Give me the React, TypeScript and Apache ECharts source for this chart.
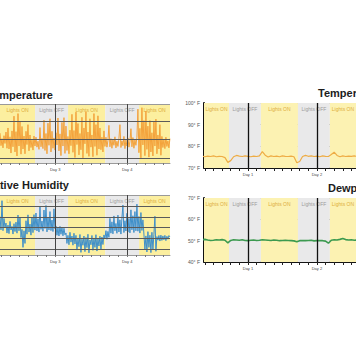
import React, { useEffect, useRef } from "react";
import * as echarts from "echarts";

// ---------- data ----------
// Left panels: samples every 1/3 h starting at hour 29.6 (Day 3 = hour 48, Day 4 = hour 72)
const leftStartHour = 29.6;
const leftStepHours = 1 / 3;

// Temperature (°F), left-top panel
const tempLeft = [
  76.7, 73.3, 75.2, 72.7, 76.0, 73.9, 77.0, 72.6,
  78.1, 72.4, 75.7, 71.3, 77.3, 73.0,
  81.3, 71.6, 77.1, 70.5, 82.0, 73.2, 79.8, 71.0,
  78.5, 72.4, 75.9, 71.1, 77.2, 73.6, 79.0, 71.9,
  76.2, 72.8, 74.8, 72.1, 75.9, 73.2,
  75.6, 72.9, 74.5, 72.3, 78.2, 73.0, 75.3, 72.5,
  80.2, 72.0, 76.6, 71.1, 79.4, 73.4, 80.6, 71.6,
  77.2, 72.6, 75.4, 72.1, 76.8, 73.5,
  80.8, 71.9, 76.5, 70.6, 79.6, 73.2, 80.9, 71.2,
  78.6, 72.0, 75.8, 71.1, 77.5, 73.3,
  81.8, 71.5, 77.4, 70.1, 82.4, 73.6, 79.3, 70.8, 76.6, 72.2, 81.0, 70.0, 78.1, 73.8,
  82.5, 71.2, 77.0, 70.4, 80.6, 72.9, 76.2, 70.3, 82.0, 73.1, 79.0, 70.7, 81.4, 72.4,
  78.1, 72.2, 75.6, 71.6, 77.3, 73.1,
  75.6, 72.9, 74.7, 78.8, 73.0, 75.2, 72.6, 74.9, 73.4, 75.7, 72.7, 74.5, 73.1, 75.3, 79.0, 72.8,
  74.6, 73.3, 75.8, 72.5, 74.8, 73.2, 75.4, 72.9, 74.4, 77.9, 73.0, 75.5, 72.6, 74.9, 73.4, 75.6,
  83.2, 71.4, 78.0, 70.0, 83.6, 73.5, 80.1, 70.6, 82.7, 72.3, 78.6, 70.2,
  80.1, 71.6, 76.8, 70.5, 79.9, 73.2, 80.5, 71.1, 76.2, 72.4, 79.0, 70.7,
  75.8, 72.8, 74.9, 72.5, 75.6, 73.1, 74.6, 72.7, 75.2,
];

// Relative humidity (%), left-bottom panel
const humidityLeft = [
  60.2, 48.1, 74.8, 47.3, 58.5, 50.2,
  54.3, 45.1, 52.4, 44.6, 55.8, 47.9, 51.2, 44.2, 53.7, 46.5, 55.1, 45.0, 61.6, 47.2, 59.8,
  41.0, 48.5, 32.0, 47.2, 35.6,
  56.4, 44.1, 61.8, 46.0, 53.3, 43.2, 59.4, 45.5, 62.0, 47.8,
  63.5, 47.1, 58.2, 46.0, 69.7, 48.5, 56.1, 46.8, 66.2, 49.3,
  70.4, 46.2, 59.6, 48.0, 64.8, 47.4, 57.0, 46.5, 67.3, 49.0,
  51.6, 43.1, 49.8, 42.4, 51.2, 44.0, 50.3, 42.6, 49.5, 43.5,
  45.2, 35.6, 43.0, 34.4, 45.8, 36.8, 42.4, 34.0, 44.9, 35.1,
  43.0, 29.5, 40.2, 32.6, 43.8, 27.4, 39.5, 33.9, 42.4, 28.1, 41.0, 31.8, 44.0, 27.0, 38.7,
  34.4, 42.9, 29.3, 40.6, 32.0, 43.6, 28.6, 39.9, 33.2, 42.2, 29.8, 41.5, 34.6, 43.4,
  40.0, 47.3, 39.4, 46.6, 41.2,
  58.6, 45.0, 55.4, 44.4, 60.8, 47.2, 53.9, 44.9, 61.5, 46.1, 57.3, 44.2, 59.0, 70.8, 45.6, 56.4, 47.0,
  63.2, 46.0, 58.5, 45.3, 66.4, 48.1, 61.0, 45.6, 64.8, 47.2, 71.6, 46.8, 60.3, 45.1, 63.9, 47.5, 57.2,
  44.2, 30.1, 42.5, 27.8, 46.4, 32.0, 43.1, 27.2, 45.8, 29.6, 44.0, 60.5, 28.4, 41.9,
  38.6, 42.9, 37.8, 43.2, 38.4, 42.5, 39.0, 43.0, 38.2, 42.2, 39.5, 42.8, 41.6,
];

// Right panels: hourly samples starting at hour 8 (Day 1 = hour 24, Day 2 = hour 48)
const rightStartHour = 8;

const tempRight = [
  75.4, 75.2, 75.5, 75.3, 75.6, 75.2, 75.4, 75.3, 74.8, 72.6,
  73.4, 75.2, 75.8, 75.5, 75.3, 75.6, 75.4, 75.2, 75.5, 75.3,
  75.6, 77.6, 75.9, 75.1, 75.6, 75.3, 75.5, 75.2, 75.6, 75.4,
  75.3, 75.5, 75.2, 72.4, 73.0, 75.3, 75.8, 75.4, 75.6, 75.3,
  75.5, 75.2, 75.6, 75.4, 75.3, 76.2, 77.3, 75.8, 75.2, 75.6,
  75.3, 75.5, 75.4, 75.6, 75.3,
];

const dewRight = [
  50.4, 50.6, 50.3, 50.1, 50.2, 50.4, 50.3, 50.5, 50.2, 49.0,
  50.1, 50.4, 50.3, 50.2, 50.4, 50.1, 50.0, 50.2, 50.3, 50.1,
  50.2, 50.4, 50.3, 50.2, 50.1, 50.3, 50.2, 50.0, 50.1, 50.2,
  50.1, 50.0, 49.9, 49.5, 50.0, 50.1, 50.0, 50.1, 50.2, 49.9,
  50.0, 50.1, 50.0, 49.8, 48.8, 50.2, 50.4, 50.3, 50.6, 51.0,
  50.5, 50.3, 50.4, 50.2, 50.3,
];

// Lights schedule (hours)
const leftLights = [
  { from: 29.6, to: 41.3, on: true },
  { from: 41.3, to: 52.3, on: false },
  { from: 52.3, to: 64.7, on: true },
  { from: 64.7, to: 76.0, on: false },
  { from: 76.0, to: 86.3, on: true },
];
const rightLights = [
  { from: 8.7, to: 17.4, on: true },
  { from: 17.4, to: 28.5, on: false },
  { from: 28.5, to: 41.4, on: true },
  { from: 41.4, to: 52.5, on: false },
  { from: 52.5, to: 61.6, on: true },
];

const leftDayTicks = [48, 72];
const leftDayLabels = ["Day 3", "Day 4"];
const rightDayTicks = [24, 48];
const rightDayLabels = ["Day 1", "Day 2"];
const leftHourTicks = [30, 33, 36, 39, 42, 45, 48, 51, 54, 57, 60, 63, 66, 69, 72, 75, 78, 81, 84];
const rightHourTicks = [9, 12, 15, 18, 21, 24, 27, 30, 33, 36, 39, 42, 45, 48, 51, 54, 57, 60];

const tempLeftLines = [70, 75, 80];
const humidityLeftLines = [30, 40, 50, 60, 70];

// ---------- styling ----------
const FONT = '"Liberation Sans", Arial, sans-serif';
const ON_FILL_L = "#fcef9f";
const ON_FILL_R = "#fcf2b2";
const OFF_FILL = "#e9e9ea";
const ON_TEXT = "#dcae3c";
const OFF_TEXT = "#9c9c9c";

const LEFT_X = { min: 29.6, max: 86.3 };
const RIGHT_X = { min: 8.7, max: 61.6 };

function bandData(list: any[], range: any, onFill: string) {
  return list.map((b) => [
    {
      name: b.on ? "Lights ON" : "Lights OFF",
      xAxis: Math.max(b.from, range.min),
      itemStyle: { color: b.on ? onFill : OFF_FILL },
      label: {
        show: true,
        position: "insideTop",
        distance: 3,
        color: b.on ? ON_TEXT : OFF_TEXT,
        fontSize: 5,
        fontFamily: FONT,
      },
    },
    { xAxis: Math.min(b.to, range.max) },
  ]);
}

function xAxisDef(gridIndex: number, range: any, ticks: number[], dayTicks: number[], dayLabels: string[], right: boolean) {
  return {
    type: "value",
    gridIndex,
    min: range.min,
    max: range.max,
    axisLine: { show: true, onZero: false, lineStyle: { color: right ? "#111" : "#9a9a9a", width: right ? 1.5 : 1 } },
    axisTick: { show: true, customValues: ticks, length: right ? 3 : 2, lineStyle: { color: right ? "#222" : "#777" } },
    axisLabel: {
      show: true,
      customValues: dayTicks,
      formatter: (v: number) => {
        const i = dayTicks.indexOf(v);
        return i >= 0 ? dayLabels[i] : "";
      },
      fontSize: 4,
      color: "#444",
      margin: 4,
      fontFamily: FONT,
    },
    splitLine: { show: false },
  };
}

function rightYAxis(gridIndex: number, min: number, max: number) {
  return {
    type: "value",
    gridIndex,
    min,
    max,
    interval: 10,
    axisLine: { show: true, lineStyle: { color: "#111", width: 2 } },
    axisTick: { show: true, inside: true, length: 4, lineStyle: { color: "#111" } },
    minorTick: { show: true, splitNumber: 5, length: 2.5, lineStyle: { color: "#222" } },
    axisLabel: { formatter: "{value}° F", fontSize: 5, color: "#555", margin: 4, fontFamily: FONT },
    splitLine: { show: true, lineStyle: { color: ["#222", "#222", "#222", "#8a8a8a"], width: 1.2 } },
  };
}

function dayLines(ticks: number[], color: string, width: number) {
  return ticks.map((t) => ({ xAxis: t, lineStyle: { color, width, type: "solid" } }));
}

export default function App() {
  const ref = useRef<HTMLDivElement>(null);

  useEffect(() => {
    if (!ref.current) return;
    const chart = echarts.init(ref.current, null, { renderer: "svg" });

    const tlData = tempLeft.map((v, i) => [leftStartHour + i * leftStepHours, v]);
    const blData = humidityLeft.map((v, i) => [leftStartHour + i * leftStepHours, v]);
    const trData = tempRight.map((v, i) => [rightStartHour + i, v]);
    const brData = dewRight.map((v, i) => [rightStartHour + i, v]);

    const markLineBase = { silent: true, symbol: ["none", "none"], label: { show: false }, animation: false };

    const option: any = {
      animation: false,
      textStyle: { fontFamily: FONT },
      grid: [
        { left: 0, top: 104, width: 170, height: 59 },
        { left: 0, top: 195, width: 170, height: 60 },
        { left: 204, top: 103, width: 152, height: 65 },
        { left: 204, top: 198, width: 152, height: 64 },
      ],
      xAxis: [
        xAxisDef(0, LEFT_X, leftHourTicks, leftDayTicks, leftDayLabels, false),
        xAxisDef(1, LEFT_X, leftHourTicks, leftDayTicks, leftDayLabels, false),
        xAxisDef(2, RIGHT_X, rightHourTicks, rightDayTicks, rightDayLabels, true),
        xAxisDef(3, RIGHT_X, rightHourTicks, rightDayTicks, rightDayLabels, true),
      ],
      yAxis: [
        { type: "value", gridIndex: 0, min: 68.6, max: 84.6, show: false, splitLine: { show: false } },
        { type: "value", gridIndex: 1, min: 25, max: 80, show: false, splitLine: { show: false } },
        rightYAxis(2, 70, 100),
        rightYAxis(3, 40, 70),
      ],
      graphic: [
        { type: "text", x: 53, y: 95, style: { text: "Temperature", font: `bold 11px ${FONT}`, fill: "#1c1c1c", textAlign: "right", textVerticalAlign: "middle", align: "right", verticalAlign: "middle" } },
        { type: "text", x: 69, y: 185, style: { text: "Relative Humidity", font: `bold 11px ${FONT}`, fill: "#1c1c1c", textAlign: "right", textVerticalAlign: "middle", align: "right", verticalAlign: "middle" } },
        { type: "text", x: 318, y: 93, style: { text: "Temperature", font: `bold 11px ${FONT}`, fill: "#1c1c1c", textAlign: "left", textVerticalAlign: "middle", align: "left", verticalAlign: "middle" } },
        { type: "text", x: 328, y: 188, style: { text: "Dewpoint", font: `bold 11px ${FONT}`, fill: "#1c1c1c", textAlign: "left", textVerticalAlign: "middle", align: "left", verticalAlign: "middle" } },
      ],
      series: [
        // ----- top-left: temperature -----
        { type: "line", xAxisIndex: 0, yAxisIndex: 0, data: [], z: 1, markArea: { silent: true, data: bandData(leftLights, LEFT_X, ON_FILL_L) } },
        {
          type: "line", xAxisIndex: 0, yAxisIndex: 0, data: tlData, z: 3, symbol: "none",
          lineStyle: { color: "#f3a23b", width: 1 }, itemStyle: { color: "#f3a23b" },
        },
        {
          type: "line", xAxisIndex: 0, yAxisIndex: 0, data: [], z: 4,
          markLine: {
            ...markLineBase,
            data: [
              ...tempLeftLines.map((v) => ({ yAxis: v, lineStyle: { color: "#5a5a5a", width: 1, type: "solid" } })),
              { yAxis: 84.6, lineStyle: { color: "#9a9a9a", width: 1, type: "solid" } },
              ...dayLines(leftDayTicks, "#444", 1),
            ],
          },
        },
        // ----- bottom-left: humidity -----
        { type: "line", xAxisIndex: 1, yAxisIndex: 1, data: [], z: 1, markArea: { silent: true, data: bandData(leftLights, LEFT_X, ON_FILL_L) } },
        {
          type: "line", xAxisIndex: 1, yAxisIndex: 1, data: blData, z: 3, symbol: "none",
          lineStyle: { color: "#3f8fc9", width: 1 }, itemStyle: { color: "#3f8fc9" },
        },
        {
          type: "line", xAxisIndex: 1, yAxisIndex: 1, data: [], z: 4,
          markLine: {
            ...markLineBase,
            data: [
              ...humidityLeftLines.map((v) => ({ yAxis: v, lineStyle: { color: "#5a5a5a", width: 1, type: "solid" } })),
              { yAxis: 80, lineStyle: { color: "#9a9a9a", width: 1, type: "solid" } },
              ...dayLines(leftDayTicks, "#444", 1),
            ],
          },
        },
        // ----- top-right: temperature -----
        { type: "line", xAxisIndex: 2, yAxisIndex: 2, data: [], z: 1, markArea: { silent: true, data: bandData(rightLights, RIGHT_X, ON_FILL_R) } },
        {
          type: "line", xAxisIndex: 2, yAxisIndex: 2, data: trData, z: 3, symbol: "none",
          lineStyle: { color: "#eeac45", width: 1.2 }, itemStyle: { color: "#eeac45" },
        },
        {
          type: "line", xAxisIndex: 2, yAxisIndex: 2, data: [], z: 4,
          markLine: { ...markLineBase, data: dayLines(rightDayTicks, "#111", 1.3) },
        },
        // ----- bottom-right: dewpoint -----
        { type: "line", xAxisIndex: 3, yAxisIndex: 3, data: [], z: 1, markArea: { silent: true, data: bandData(rightLights, RIGHT_X, ON_FILL_R) } },
        {
          type: "line", xAxisIndex: 3, yAxisIndex: 3, data: brData, z: 3, symbol: "none",
          lineStyle: { color: "#3c9a50", width: 1.6 }, itemStyle: { color: "#3c9a50" },
        },
        {
          type: "line", xAxisIndex: 3, yAxisIndex: 3, data: [], z: 4,
          markLine: { ...markLineBase, data: dayLines(rightDayTicks, "#111", 1.3) },
        },
      ],
    };

    chart.setOption(option);
    return () => chart.dispose();
  }, []);

  return (
    <div
      ref={ref}
      style={{ position: "fixed", left: 0, top: 0, width: 356, height: 364, background: "#ffffff" }}
    />
  );
}
